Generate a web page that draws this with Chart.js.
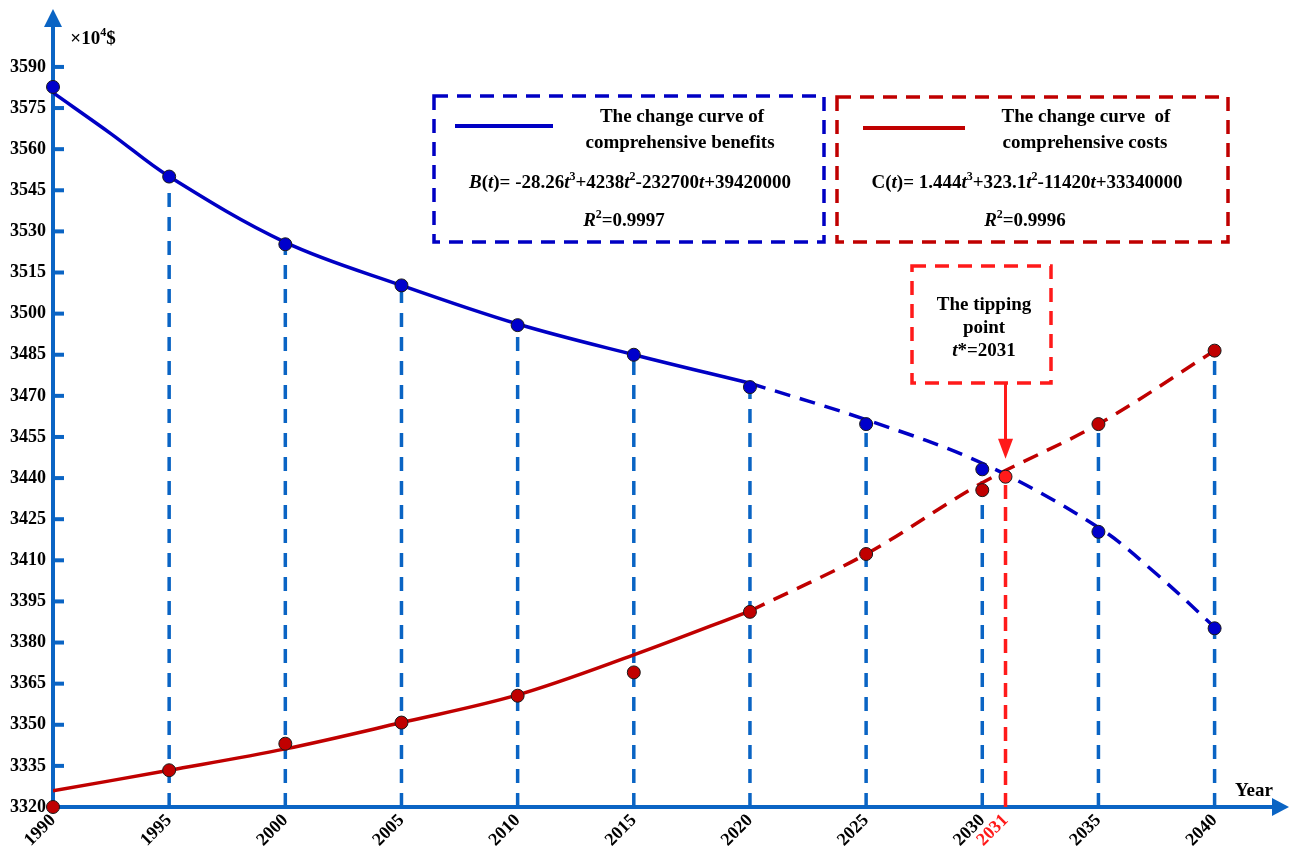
<!DOCTYPE html>
<html>
<head>
<meta charset="utf-8">
<script src="https://cdn.jsdelivr.net/npm/chart.js@4.4.0/dist/chart.umd.min.js"></script>
<style>
  html, body { margin: 0; padding: 0; background: #fff; }
  #wrap { width: 1290px; height: 850px; }
</style>
</head>
<body>
<div id="wrap"><canvas id="tippingChart"></canvas></div>
<script>
// observed values (x10^4 $)
const years = [1990, 1995, 2000, 2005, 2010, 2015, 2020, 2025, 2030, 2035, 2040];
const benefitPoints = [3582.7, 3550.0, 3525.3, 3510.3, 3495.8, 3485.0, 3473.2, 3459.7, 3443.2, 3420.4, 3385.2];
const costPoints = [3320.0, 3333.4, 3343.1, 3350.8, 3360.6, 3369.1, 3391.2, 3412.3, 3435.6, 3459.7, 3486.5];

// fitted curves
const benefitFitYears = [1990, 1992.5, 1995, 2000, 2005, 2010, 2015, 2020];
const benefitFit = [3580.6, 3565.6, 3550.0, 3526.0, 3510.3, 3496.2, 3485.0, 3474.6];
const benefitForecastYears = [2020, 2025, 2030, 2035, 2037.5, 2040];
const benefitForecast = [3474.6, 3461.3, 3445.4, 3422.0, 3405.0, 3385.6];

const costFitYears = [1990, 1995, 2000, 2005, 2010, 2015, 2020];
const costFit = [3325.9, 3333.4, 3341.2, 3350.8, 3360.9, 3375.5, 3391.5];
const costForecastYears = [2020, 2025, 2030, 2035, 2040];
const costForecast = [3391.5, 3412.3, 3438.3, 3459.7, 3486.5];

const tippingYear = 2031;
const tippingValue = 3440.5;

const xTicks = [1990, 1995, 2000, 2005, 2010, 2015, 2020, 2025, 2030, 2031, 2035, 2040];
const yTicks = [3320, 3335, 3350, 3365, 3380, 3395, 3410, 3425, 3440, 3455, 3470,
	3485, 3500, 3515, 3530, 3545, 3560, 3575, 3590];

// legend / note texts: [text, flags] with i = italic, s = superscript
const benefitTitle = ['The change curve of', 'comprehensive benefits'];
const costTitle = ['The change curve  of', 'comprehensive costs'];
const benefitFormula = [['B', 'i'], ['('], ['t', 'i'], [')= -28.26'], ['t', 'i'], ['3', 's'], ['+4238'], ['t', 'i'], ['2', 's'],
	['-232700'], ['t', 'i'], ['+39420000']];
const costFormula = [['C('], ['t', 'i'], [')= 1.444'], ['t', 'i'], ['3', 's'], ['+323.1'], ['t', 'i'], ['2', 's'],
	['-11420'], ['t', 'i'], ['+33340000']];
const benefitR2 = [['R', 'i'], ['2', 's'], ['=0.9997']];
const costR2 = [['R', 'i'], ['2', 's'], ['=0.9996']];

const AXIS = '#0a64c4';
const BLUE = '#0000c4';
const RED = '#c00000';
const BRIGHT = '#ff1a1a';
const SERIF = '"Liberation Serif", "Times New Roman", serif';
const NOTE = 19;

const toXY = (xs, ys) => xs.map((x, i) => ({ x, y: ys[i] }));

const dropLines = [];
years.slice(1).forEach((yr, i) => {
	const top = Math.max(benefitPoints[i + 1], costPoints[i + 1]);
	dropLines.push({ x: yr, y: yTicks[0] }, { x: yr, y: top }, { x: yr, y: null });
});

function richText(ctx, runs, cx, y, size) {
	const font = (r) => `${r[1] === 'i' ? 'italic ' : ''}bold ${r[1] === 's' ? Math.round(size * 0.62) : size}px ${SERIF}`;
	let w = 0;
	runs.forEach(r => { ctx.font = font(r); w += ctx.measureText(r[0]).width; });
	let x = cx - w / 2;
	ctx.textAlign = 'left';
	ctx.textBaseline = 'alphabetic';
	runs.forEach(r => {
		ctx.font = font(r);
		ctx.fillText(r[0], x, r[1] === 's' ? y - size * 0.42 : y);
		x += ctx.measureText(r[0]).width;
	});
}

function dashedBox(ctx, x1, y1, x2, y2, color) {
	ctx.save();
	ctx.strokeStyle = color;
	ctx.lineWidth = 3.5;
	ctx.setLineDash([14, 9]);
	ctx.strokeRect(x1, y1, x2 - x1, y2 - y1);
	ctx.restore();
}

const axisDecor = {
	id: 'axisDecor',
	beforeDatasetsDraw(chart) {
		const { ctx, chartArea: a, scales: { y } } = chart;
		ctx.save();
		ctx.strokeStyle = AXIS;
		ctx.lineWidth = 4;
		yTicks.slice(1).forEach(v => {
			const py = y.getPixelForValue(v);
			ctx.beginPath();
			ctx.moveTo(a.left, py);
			ctx.lineTo(a.left + 11, py);
			ctx.stroke();
		});
		ctx.restore();
	},
	afterDraw(chart) {
		const { ctx, chartArea: a, scales: { x, y } } = chart;
		ctx.save();
		ctx.fillStyle = AXIS;
		ctx.beginPath();
		ctx.moveTo(a.left, a.top - 16);
		ctx.lineTo(a.left - 9, a.top + 2);
		ctx.lineTo(a.left + 9, a.top + 2);
		ctx.closePath();
		ctx.fill();
		ctx.beginPath();
		ctx.moveTo(a.right + 14, a.bottom);
		ctx.lineTo(a.right - 3, a.bottom - 9);
		ctx.lineTo(a.right - 3, a.bottom + 9);
		ctx.closePath();
		ctx.fill();

		ctx.fillStyle = '#000';
		richText(ctx, [['\u00d710'], ['4', 's'], ['$']], 93, 44, 19);
		ctx.font = `bold 19px ${SERIF}`;
		ctx.textAlign = 'left';
		ctx.fillText('Year', 1235, 796);

		// legend boxes
		dashedBox(ctx, 434, 96, 824, 242, BLUE);
		dashedBox(ctx, 837, 97, 1228, 242, RED);
		ctx.lineWidth = 4;
		ctx.strokeStyle = BLUE;
		ctx.beginPath(); ctx.moveTo(455, 126); ctx.lineTo(553, 126); ctx.stroke();
		ctx.strokeStyle = RED;
		ctx.beginPath(); ctx.moveTo(863, 128); ctx.lineTo(965, 128); ctx.stroke();

		ctx.fillStyle = '#000';
		ctx.font = `bold ${NOTE}px ${SERIF}`;
		ctx.textAlign = 'center';
		ctx.fillText(benefitTitle[0], 682, 122);
		ctx.fillText(benefitTitle[1], 680, 148);
		ctx.fillText(costTitle[0], 1086, 122);
		ctx.fillText(costTitle[1], 1085, 148);
		richText(ctx, benefitFormula, 630, 188, NOTE);
		richText(ctx, costFormula, 1027, 188, NOTE);
		richText(ctx, benefitR2, 624, 226, NOTE);
		richText(ctx, costR2, 1025, 226, NOTE);

		// tipping point note
		dashedBox(ctx, 912, 266, 1051, 383, BRIGHT);
		ctx.fillStyle = '#000';
		ctx.font = `bold ${NOTE}px ${SERIF}`;
		ctx.textAlign = 'center';
		ctx.fillText('The tipping', 984, 310);
		ctx.fillText('point', 984, 333);
		richText(ctx, [['t', 'i'], ['*=' + tippingYear]], 984, 356, NOTE);

		const px = x.getPixelForValue(tippingYear);
		const tip = y.getPixelForValue(tippingValue) - 18;
		ctx.strokeStyle = BRIGHT;
		ctx.fillStyle = BRIGHT;
		ctx.lineWidth = 3;
		ctx.beginPath(); ctx.moveTo(px, 384); ctx.lineTo(px, tip - 14); ctx.stroke();
		ctx.beginPath();
		ctx.moveTo(px, tip);
		ctx.lineTo(px - 7.5, tip - 20);
		ctx.lineTo(px + 7.5, tip - 20);
		ctx.closePath();
		ctx.fill();
		ctx.restore();
	}
};

const pointStyle = (color) => ({
	showLine: false,
	pointRadius: 6.5,
	pointBackgroundColor: color,
	pointBorderColor: '#1a1a1a',
	pointBorderWidth: 1,
	clip: false,
	order: 1
});

const curveStyle = (color, dashed) => ({
	borderColor: color,
	borderWidth: 3.5,
	borderDash: dashed ? [16, 10] : [],
	pointRadius: 0,
	tension: 0.35,
	order: 5
});

const tickFont = { family: SERIF, size: 18, weight: 'bold' };

new Chart(document.getElementById('tippingChart'), {
	type: 'line',
	data: {
		datasets: [
			{ data: dropLines, borderColor: AXIS, borderWidth: 3.5, borderDash: [14, 10], pointRadius: 0, spanGaps: false, order: 10 },
			{ data: [{ x: tippingYear, y: yTicks[0] }, { x: tippingYear, y: tippingValue }], borderColor: BRIGHT, borderWidth: 3.5, borderDash: [14, 8], pointRadius: 0, order: 10 },
			{ data: toXY(benefitFitYears, benefitFit), ...curveStyle(BLUE, false) },
			{ data: toXY(benefitForecastYears, benefitForecast), ...curveStyle(BLUE, true) },
			{ data: toXY(costFitYears, costFit), ...curveStyle(RED, false) },
			{ data: toXY(costForecastYears, costForecast), ...curveStyle(RED, true) },
			{ data: toXY(years, benefitPoints), ...pointStyle('#0000cc') },
			{ data: toXY(years, costPoints), ...pointStyle(RED) },
			{ data: [{ x: tippingYear, y: tippingValue }], ...pointStyle(BRIGHT) }
		]
	},
	options: {
		responsive: true,
		maintainAspectRatio: false,
		animation: false,
		layout: { padding: { top: 25, right: 15, left: 0, bottom: 0 } },
		plugins: { legend: { display: false }, tooltip: { enabled: false } },
		scales: {
			x: {
				type: 'linear',
				min: 1990,
				max: 2042.6,
				afterBuildTicks: s => { s.ticks = xTicks.map(v => ({ value: v })); },
				afterFit: s => { s.height = 43; },
				grid: { display: false, drawTicks: false },
				border: { display: true, color: AXIS, width: 4 },
				ticks: {
					autoSkip: false,
					minRotation: 45,
					maxRotation: 45,
					padding: 3,
					font: tickFont,
					color: c => (c.tick && c.tick.value === tippingYear ? BRIGHT : '#000'),
					callback: v => String(v)
				}
			},
			y: {
				min: 3320,
				max: 3605.3,
				afterBuildTicks: s => { s.ticks = yTicks.map(v => ({ value: v })); },
				afterFit: s => { s.width = 53; },
				grid: { display: false, drawTicks: false },
				border: { display: true, color: AXIS, width: 4 },
				ticks: { padding: 7, font: tickFont, color: '#000', callback: v => String(v) }
			}
		}
	},
	plugins: [axisDecor]
});
</script>
</body>
</html>
